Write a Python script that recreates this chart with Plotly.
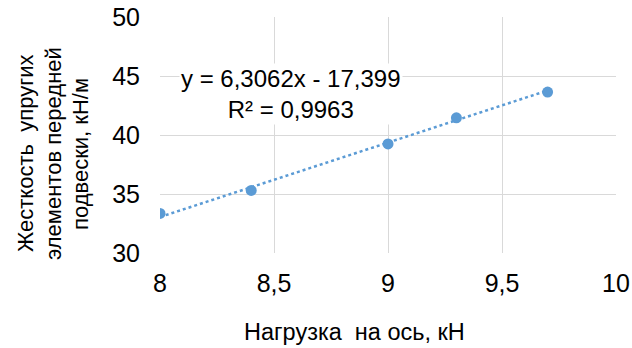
import plotly.graph_objects as go

# Data
load_kN = [8.0, 8.4, 9.0, 9.3, 9.7]
stiffness = [33.35, 35.3, 39.24, 41.46, 43.64]

# Trendline coefficients as shown on the chart
slope = 6.3062
intercept = -17.399
r2 = 0.9963

x_ticks = [8, 8.5, 9, 9.5, 10]
y_ticks = [30, 35, 40, 45, 50]

W, H = 632, 348
L, R, T, B = 160, 16, 17, 95
pw, ph = W - L - R, H - T - B

def px_x(p):
    return (p - L) / pw

def px_y(p):
    return 1 - (p - T) / ph

FONT = "Liberation Sans"
COLOR = "#5B9BD5"

trend_x = [min(load_kN), max(load_kN)]
trend_y = [slope * v + intercept for v in trend_x]

fig = go.Figure()
fig.add_trace(go.Scatter(x=trend_x, y=trend_y, mode="lines",
                         line=dict(color=COLOR, width=2.5, dash="dot"),
                         hoverinfo="skip", showlegend=False))
fig.add_trace(go.Scatter(x=load_kN, y=stiffness, mode="markers",
                         marker=dict(color=COLOR, size=11),
                         showlegend=False))

fig.update_layout(
    width=W, height=H,
    margin=dict(l=L, r=R, t=T, b=B, autoexpand=False),
    paper_bgcolor="white", plot_bgcolor="white",
    separators=", ",
    font=dict(family=FONT, size=24, color="#000000"),
    xaxis=dict(range=[8, 10], tickvals=x_ticks, showgrid=True, gridcolor="#d9d9d9",
               gridwidth=1, zeroline=False, showline=False, automargin=False,
               ticklabelstandoff=13, tickfont=dict(size=25, family=FONT)),
    yaxis=dict(range=[30, 50], tickvals=y_ticks, showgrid=True, gridcolor="#d9d9d9",
               gridwidth=1, zeroline=False, showline=False, automargin=False,
               ticklabelstandoff=19, tickfont=dict(size=25, family=FONT)),
)

annotations = [
    dict(text="Нагрузка  на ось, кН", x=px_x(354), y=px_y(332), xref="paper", yref="paper",
         showarrow=False, xanchor="center", yanchor="middle", font=dict(size=23.5, family=FONT)),
    dict(text=f"y = {str(slope).replace('.', ',')}x - {str(-intercept).replace('.', ',')}<br>R² = {str(r2).replace('.', ',')}",
         x=px_x(291), y=px_y(94), xref="paper", yref="paper", showarrow=False,
         xanchor="center", yanchor="middle", align="center", bgcolor="white",
         font=dict(size=24, family=FONT)),
]
ytitle_lines = ["Жесткость  упругих", "элементов передней", "подвески, кН/м"]
ytitle_x = [25, 53, 80]
for txt, xp in zip(ytitle_lines, ytitle_x):
    annotations.append(dict(text=txt, x=px_x(xp), y=px_y(154), xref="paper", yref="paper",
                            showarrow=False, textangle=-90, xanchor="center", yanchor="middle",
                            font=dict(size=22, family=FONT)))
fig.update_layout(annotations=annotations)

fig.write_html("out.html")
